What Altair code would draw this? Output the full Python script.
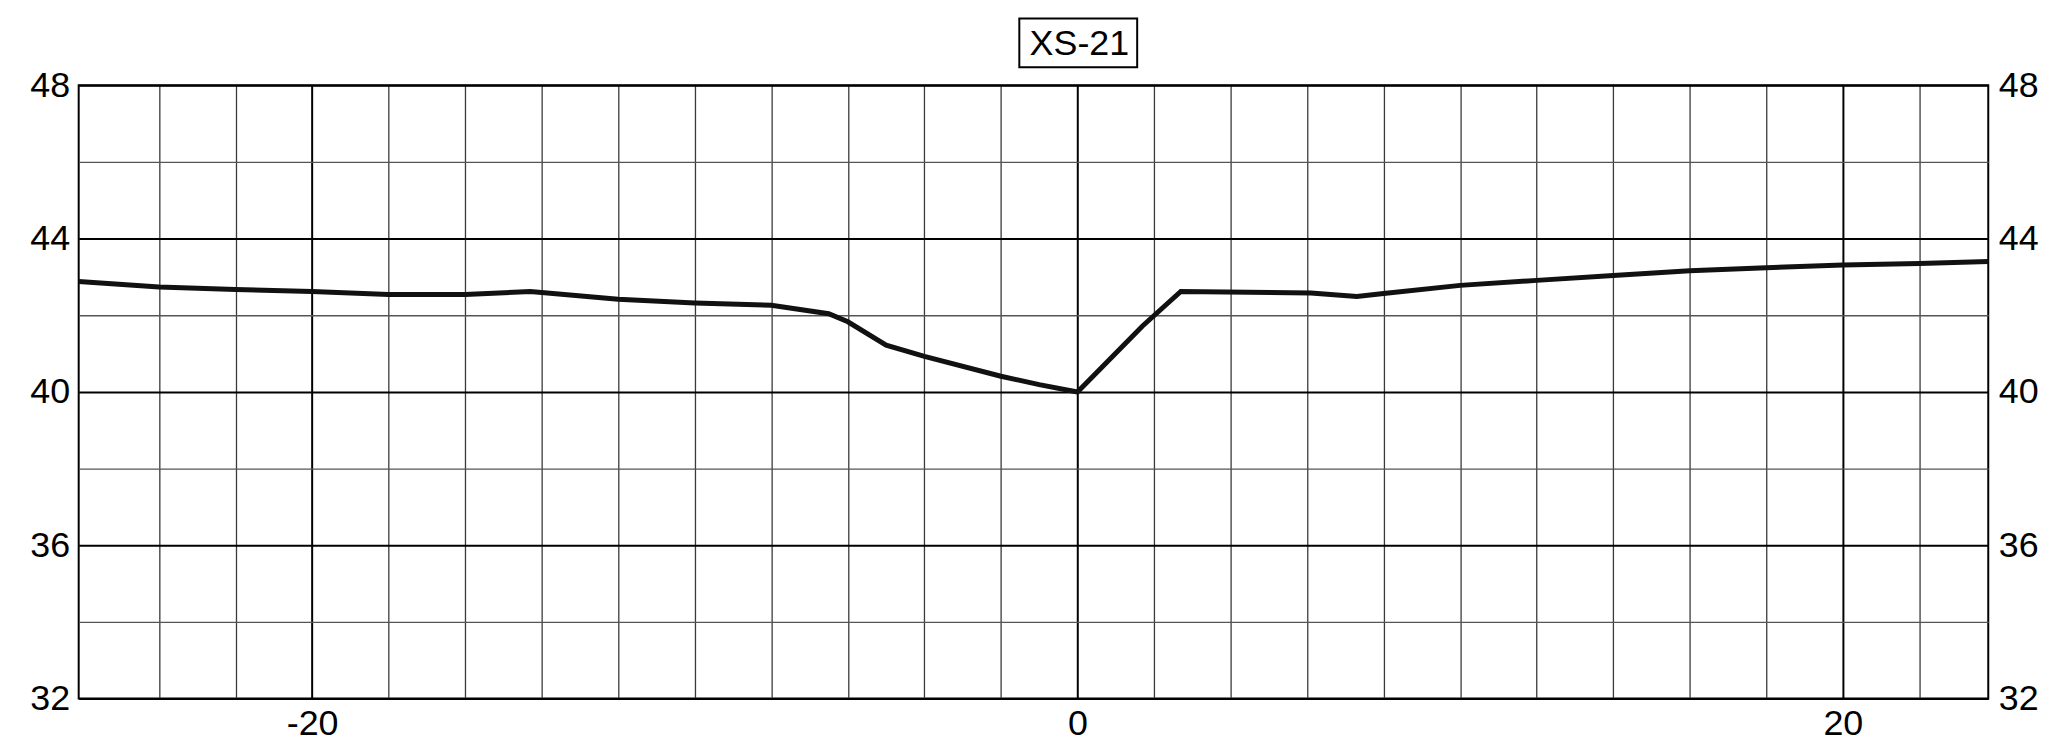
import altair as alt
import pandas as pd

# Cross-section profile
station = [-26.1, -24, -22, -20, -18, -16, -14.3, -12, -10, -8, -6.5, -6, -5, -4, -2, -1, 0,
           1.7, 2.7, 6.1, 7.3, 8, 10, 12, 14, 16, 18, 20, 22, 23.8]
elevation = [42.88, 42.74, 42.67, 42.62, 42.54, 42.54, 42.62, 42.42, 42.32, 42.26, 42.04, 41.83,
             41.22, 40.93, 40.41, 40.19, 40.0, 41.72, 42.62, 42.58, 42.49, 42.57, 42.78, 42.91,
             43.04, 43.16, 43.24, 43.31, 43.35, 43.40]

x_grid = list(range(-24, 23, 2))
y_grid = list(range(32, 49, 2))
x_domain = [-26.1, 23.8]
y_domain = [32, 48]
title_text = "XS-21"

df = pd.DataFrame({"x": station, "y": elevation})

FONT = "Liberation Sans"

xscale = alt.Scale(domain=x_domain, nice=False, zero=False)
yscale = alt.Scale(domain=y_domain, nice=False, zero=False)


def x_axis():
    return alt.Axis(
        values=x_grid, title=None, grid=True, domain=False, ticks=False, orient="bottom",
        labelExpr="datum.value % 20 === 0 ? '' + datum.value : ''",
        labelFont=FONT, labelFontSize=36, labelColor="black", labelPadding=8,
        labelOverlap=False, labelFlush=False,
        gridColor={"condition": {"test": "datum.value % 20 === 0", "value": "#000000"}, "value": "#3a3a3a"},
        gridWidth={"condition": {"test": "datum.value % 20 === 0", "value": 2}, "value": 1.3},
    )


y_axis_left = alt.Axis(
    values=y_grid, title=None, grid=True, domain=False, ticks=False, orient="left",
    labelExpr="datum.value % 4 === 0 ? '' + datum.value : ''",
    labelFont=FONT, labelFontSize=36, labelColor="black", labelPadding=9,
    labelOverlap=False, labelFlush=False,
    gridColor={"condition": {"test": "datum.value % 4 === 0", "value": "#000000"}, "value": "#555555"},
    gridWidth={"condition": {"test": "datum.value % 4 === 0", "value": 2}, "value": 1.3},
)
y_axis_right = alt.Axis(
    values=y_grid, title=None, grid=False, domain=False, ticks=False, orient="right",
    labelExpr="datum.value % 4 === 0 ? '' + datum.value : ''",
    labelFont=FONT, labelFontSize=36, labelColor="black", labelPadding=10,
    labelOverlap=False, labelFlush=False,
)

line = alt.Chart(df).mark_line(color="#111111", strokeWidth=5).encode(
    x=alt.X("x:Q", scale=xscale, axis=x_axis()),
    y=alt.Y("y:Q", scale=yscale, axis=y_axis_left),
)

right = alt.Chart(df).mark_point(opacity=0).encode(
    x=alt.X("x:Q", scale=xscale, axis=x_axis()),
    y=alt.Y("y:Q", scale=yscale, axis=y_axis_right),
)

tdf = pd.DataFrame({"t": [title_text]})
box = alt.Chart(tdf).mark_rect(fill="white", stroke="black", strokeWidth=2).encode(
    x=alt.datum(-1.52, scale=xscale),
    x2=alt.datum(1.56),
    y=alt.value(-67),
    y2=alt.value(-18),
)
label = alt.Chart(tdf).mark_text(font=FONT, fontSize=36, color="black", baseline="middle", align="center").encode(
    x=alt.datum(0.05, scale=xscale),
    y=alt.value(-41),
    text="t:N",
)

chart = alt.layer(line, right, box, label).resolve_axis(y="independent").properties(
    width=1918, height=616,
    background="white",
    autosize=alt.AutoSizeParams(type="none"),
    padding={"left": 71, "top": 76, "right": 60, "bottom": 45},
).configure_view(stroke="black", strokeWidth=2)

chart.save("out.html", embed_options={"renderer": "svg", "actions": False})
